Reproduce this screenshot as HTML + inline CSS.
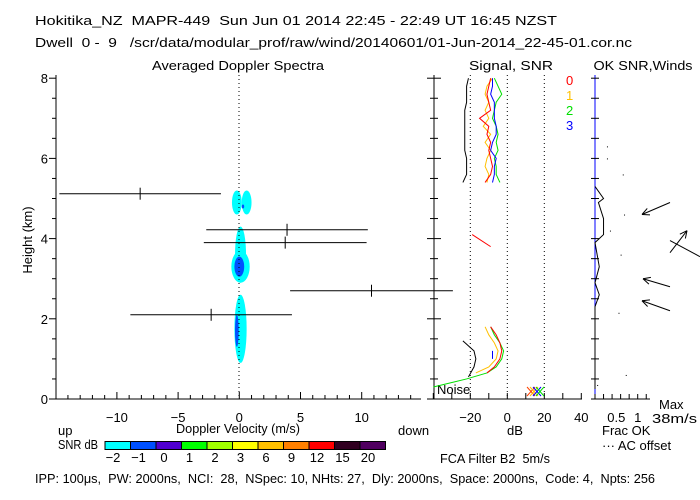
<!DOCTYPE html>
<html><head><meta charset="utf-8"><style>
html,body{margin:0;padding:0;background:#fff;}
svg{display:block;font-family:"Liberation Sans",sans-serif;}
text{font-size:13px;}
</style></head><body>
<svg id="c" width="700" height="500" viewBox="0 0 700 500">
<text x="35" y="25" xml:space="preserve" textLength="522" lengthAdjust="spacingAndGlyphs">Hokitika_NZ  MAPR-449  Sun Jun 01 2014 22:45 - 22:49 UT 16:45 NZST</text>
<text x="35" y="47" xml:space="preserve" textLength="597" lengthAdjust="spacingAndGlyphs">Dwell  0 -  9   /scr/data/modular_prof/raw/wind/20140601/01-Jun-2014_22-45-01.cor.nc</text>
<text x="238" y="70" text-anchor="middle" textLength="172" lengthAdjust="spacingAndGlyphs">Averaged Doppler Spectra</text>
<text x="511" y="70" text-anchor="middle" textLength="84" lengthAdjust="spacingAndGlyphs">Signal,  SNR</text>
<text x="643" y="70" text-anchor="middle" textLength="99" lengthAdjust="spacingAndGlyphs">OK  SNR,Winds</text>
<text x="32" y="240" text-anchor="middle" transform="rotate(-90 32 240)">Height (km)</text>
<text x="238" y="433" text-anchor="middle" textLength="124" lengthAdjust="spacingAndGlyphs">Doppler Velocity (m/s)</text>
<text x="58" y="435">up</text>
<text x="398" y="435">down</text>
<text x="507" y="435">dB</text>
<text x="602" y="435">Frac OK</text>
<text x="602" y="450">··· AC offset</text>
<text x="659" y="409">Max</text>
<text x="652" y="423" textLength="45" lengthAdjust="spacingAndGlyphs">38m/s</text>
<text x="58" y="449" textLength="40" lengthAdjust="spacingAndGlyphs">SNR dB</text>
<text x="440" y="463" xml:space="preserve" textLength="110" lengthAdjust="spacingAndGlyphs">FCA Filter B2  5m/s</text>
<text x="35" y="483" xml:space="preserve" textLength="620" lengthAdjust="spacingAndGlyphs">IPP: 100μs,  PW: 2000ns,  NCI:  28,  NSpec: 10, NHts: 27,  Dly: 2000ns,  Space: 2000ns,  Code: 4,  Npts: 256</text>
<text x="437" y="394">Noise</text>
<g id="g"></g>
</svg>
<script>
// ---- data ----
const heightTicks=[0,2,4,6,8];
const velTicks=[-10,-5,0,5,10];
const dbTicks=[-20,0,20,40];
const fracTicks=[0.5,1];
const snrLevels=["-2","-1","0","1","2","3","6","9","12","15","20"];
const snrColors=["#00ffff","#0050ff","#5000d0","#00ff00","#a0ff00","#ffff00","#ffc000","#ff8000","#ff0000","#300020","#500060"];
// spectral moments: height (km), mean velocity, width
const momH=[5.12,4.22,3.9,2.7,2.1];
const momV=[-8.1,3.9,3.75,10.8,-2.3];
const momW=[13.2,13.2,13.3,13.3,13.2];
// spectra blobs: height, half-height, velocity, half-width, level index
const blobH=[4.9,4.9,3.6,3.3,1.75,3.3,1.7,4.8];
const blobHH=[0.3,0.3,0.7,0.4,0.85,0.25,0.4,0.05];
const blobV=[-0.2,0.6,0.1,0.1,0.1,0.0,-0.2,0.3];
const blobHW=[0.4,0.4,0.45,0.75,0.5,0.4,0.15,0.1];
const blobLvl=[0,0,0,0,0,1,1,1];
// signal profiles (dB) upper cluster
const upH=[5.4,5.6,5.8,6.0,6.2,6.4,6.6,6.8,7.0,7.2,7.4,7.6,7.8,8.0];
const sig0=[-12,-9,-8,-9,-10,-9,-11,-10,-15,-9,-10,-11,-10,-9];
const sig1=[-11,-10,-12,-11,-9,-12,-9,-13,-10,-12,-10,-12,-11,-8];
const sig2=[-4,-6,-6,-7,-5,-6,-5,-6,-8,-7,-6,-3,-5,-7];
const sig3=[-8,-7,-7,-6,-9,-8,-6,-6,-7,-7,-7,-9,-8,-8];
const noiseUp=[-24,-22,-22,-22,-23,-23,-23,-23,-23,-23,-22,-22,-22,-21];
// lower cluster
const lowH=[0.65,0.8,1.0,1.2,1.4,1.6,1.8];
const low0=[-11,-7,-4,-3,-4,-6,-9];
const low1=[-17,-10,-6,-5,-7,-10,-12];
const low2=[-11,-6,-3,-2,-4,-7,-9];
const low3=[null,null,-8,-8,null,null,null];
const noiseLowH=[0.55,0.8,1.0,1.2,1.45];
const noiseLow=[-21,-18,-17,-18,-24];
const mid0H=[4.1,3.8]; const mid0=[-19,-9];
// noise level line
const noiseLineH=[0.3,0.5,0.65];
const noiseLine=[-40,-22,-11];
// frac OK profile
const fracH=[0.25,1.1,1.6,2.3,2.6,2.9,3.3,3.9,4.1,4.5,4.9,5.0,5.3];
const fracV=[0,0,0,0,0.1,0,0.1,0,0.2,0.2,0.08,0.2,0];
const dotH=[0.35,0.6,2.15,3.6,4.2,4.6,5.6,6.0,6.3];
const dotV=[0.05,0.72,0.55,0.6,0.35,0.68,0.65,0.28,0.28];
// winds: height, u (m/s), v (m/s, positive = down on page)
const windH=[2.2,2.8,3.65,4.9];
const windU=[-28,-27,17,-28];
const windV=[-10,-8,-22,12];
// ---- scales ----
const y=h=>399-h*40.1;
const xv=v=>239.3+v*12.24;
const xd=d=>507.3+d*1.85;
const xf=f=>595+f*42.7;
const g=document.getElementById('g');
const NS='http://www.w3.org/2000/svg';
function mk(t,a,p){const e=document.createElementNS(NS,t);for(const k in a)e.setAttribute(k,a[k]);(p||g).appendChild(e);return e;}
function ln(x1,y1,x2,y2,c,extra){return mk('line',Object.assign({x1,y1,x2,y2,stroke:c||'#000','stroke-width':1},extra||{}));}
// blobs
blobH.forEach((h,i)=>{
 const e=mk('ellipse',{cx:xv(blobV[i]),cy:y(h),rx:blobHW[i]*12.24,ry:blobHH[i]*40.1,fill:snrColors[blobLvl[i]]});
 
 
});
// axes main
ln(56,75,56,399); ln(50,399,421,399); ln(434,75,434,399); ln(434,399,582,399); ln(595,75,595,399,'#0000ff');ln(595,399,650,399);
ln(239,75,239,399,'#000',{'stroke-dasharray':'1,3'});
[-20,0,20].forEach(d=>ln(xd(d),75,xd(d),399,'#000',{'stroke-dasharray':'1,3'}));
for(let h=0;h<=8.01;h+=0.5){const maj=Math.abs(h-Math.round(h/2)*2)<0.01;
 ln(56-(maj?7:4),y(h),56,y(h)); ln(434-(maj?7:4),y(h),434+(maj?7:4),y(h)); ln(591,y(h),599,y(h));}
heightTicks.forEach(h=>{const t=mk('text',{x:48,y:y(h)+5,'text-anchor':'end'});t.textContent=h;
 
 });
for(let v=-14;v<=14;v++){ln(xv(v),399,xv(v),v%5===0?392:395);}
velTicks.forEach(v=>{const t=mk('text',{x:xv(v),y:422,'text-anchor':'middle'});t.textContent=(v<0?'−'+(-v):v);
 
 });
for(let d=-40;d<=40;d+=10)ln(xd(d),399,xd(d),393);
dbTicks.forEach(d=>{const t=mk('text',{x:xd(d),y:422,'text-anchor':'middle'});t.textContent=(d<0?'−'+(-d):d);
 
 });
for(let f=0;f<=1.21;f+=0.2)ln(xf(f),399,xf(f),394);
fracTicks.forEach(f=>{const t=mk('text',{x:xf(f),y:422,'text-anchor':'middle'});t.textContent=f;
 
 });
// moments
momH.forEach((h,i)=>{
 const l=ln(xv(momV[i]-momW[i]/2),y(h),Math.min(xv(momV[i]+momW[i]/2),453),y(h));
 
 
 ln(xv(momV[i]),y(h)-6,xv(momV[i]),y(h)+6);
});
// polylines
function poly(H,V,c,name){let segs=[],cur=[];H.forEach((h,i)=>{if(V[i]===null){if(cur.length)segs.push(cur);cur=[];}else cur.push(xd(V[i])+','+y(h));});if(cur.length)segs.push(cur);
 segs.forEach(s=>{const p=mk('polyline',{points:s.join(' '),fill:'none',stroke:c,'stroke-width':1});
 
 });}
poly(upH,noiseUp,'#000','noise-profile');poly(noiseLowH,noiseLow,'#000','noise-profile');
poly(upH,sig1,'#ffc000','beam-1-signal');poly(upH,sig2,'#00e000','beam-2-signal');poly(upH,sig3,'#0000ff','beam-3-signal');poly(upH,sig0,'#ff0000','beam-0-signal');
poly(lowH,low1,'#ffc000','beam-1-signal');poly(lowH,low2,'#00e000','beam-2-signal');poly(lowH,low0,'#ff0000','beam-0-signal');poly(lowH,low3,'#0000ff','beam-3-signal');
poly(mid0H,mid0,'#ff0000','beam-0-signal');
poly(noiseLineH,noiseLine,'#00e000','noise-level');
// beam legend
['0','1','2','3'].forEach((s,i)=>{const t=mk('text',{x:566,y:85+i*15,style:'fill:'+['#ff0000','#ffc000','#00e000','#0000ff'][i]});t.textContent=s;
 
 });
// X markers
[['#ff4000',531],['#ffc000',534],['#0000ff',537],['#00e000',540]].forEach(([c,x])=>{ln(x-4,387,x+4,396,c);ln(x-4,396,x+4,387,c);});
// frac
const fp=mk('polyline',{points:fracH.map((h,i)=>xf(fracV[i])+','+y(h)).join(' '),fill:'none',stroke:'#000'});


dotH.forEach((h,i)=>mk('rect',{x:xf(dotV[i]),y:y(h),width:1,height:1,fill:'#000'}));
// winds
windH.forEach((h,i)=>{
 const x0=670,y0=y(h),x1=x0+windU[i],y1=y0+windV[i];
 const a=mk('g',{});
 
 
 const ang=Math.atan2(y1-y0,x1-x0);
 mk('line',{x1:x0,y1:y0,x2:x1,y2:y1,stroke:'#000'},a);
 [0.45,-0.45].forEach(d=>mk('line',{x1,y1,x2:x1-8*Math.cos(ang+d),y2:y1-8*Math.sin(ang+d),stroke:'#000'},a));
});
ln(670,y(3.95),700,y(3.55));
// colorbar
snrColors.forEach((c,i)=>{
 const r=mk('rect',{x:105+i*25.5,y:441.5,width:25.5,height:8,fill:c,stroke:'#000','stroke-width':1});
 
 
 const t=mk('text',{x:105+i*25.5+8,y:462,'text-anchor':'middle'});t.textContent=snrLevels[i].replace('-','−');
 
 
});
</script>
</body></html>
